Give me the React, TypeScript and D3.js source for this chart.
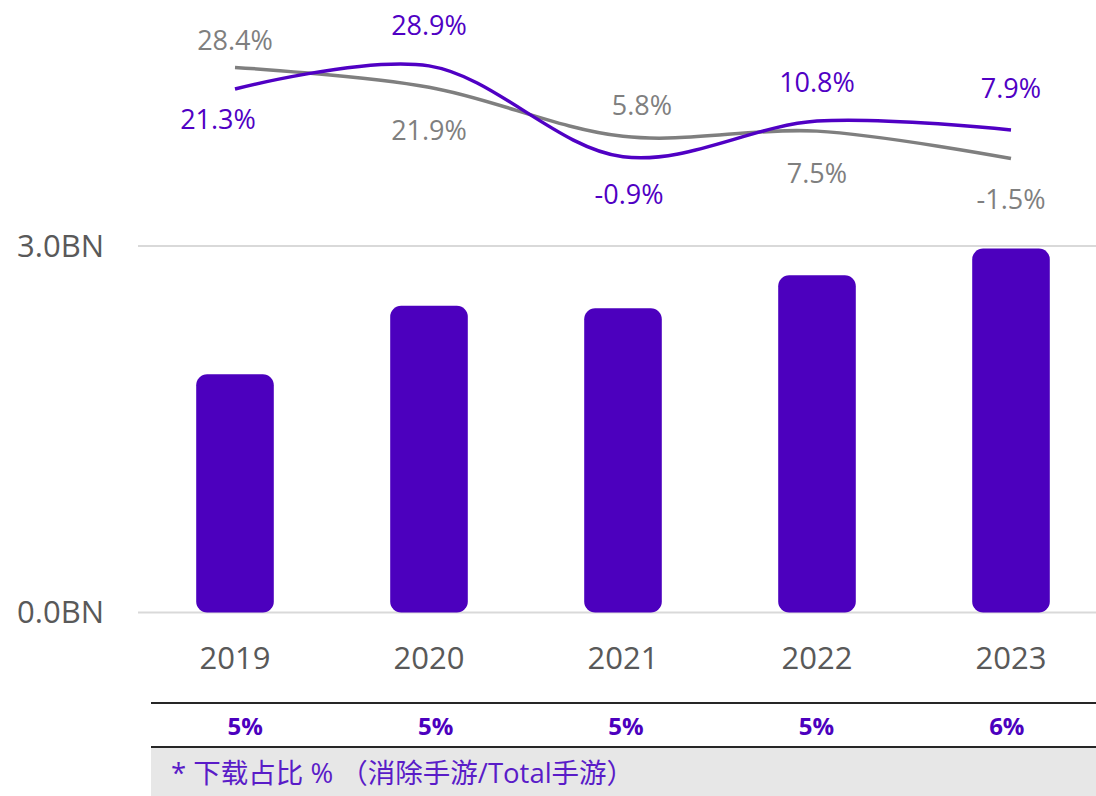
import { useEffect, useRef } from "react"
import * as d3 from "d3"

// downloads (BN) per year
const years = ["2019", "2020", "2021", "2022", "2023"]
const downloads = [1.95, 2.51, 2.49, 2.76, 2.98]
// YoY growth, %
const matchGrowth = [21.3, 28.9, -0.9, 10.8, 7.9]
const totalGrowth = [28.4, 21.9, 5.8, 7.5, -1.5]
// share row under the axis
const shareLabels = ["5%", "5%", "5%", "5%", "6%"]
const yTicks = [0, 3]
const footnote = "* 下载占比 % （消除手游/Total手游）"

// label offset from its point [dx, dy]
const matchLabelPos = [[-17, 31], [0, -40], [6, 38], [0, -39], [0, -41]]
const totalLabelPos = [[0, -27], [0, 43], [19, -31], [0, 42], [0, 41]]

const purple = "#4C00BE"
const grey = "#7F7F7F"
const axisText = "#595959"
const font = "'Open Sans', 'Noto Sans CJK SC', sans-serif"

export default function App() {
    const ref = useRef<SVGSVGElement>(null)
    const width = 1096, height = 796

    const drawChart = () => {
        const svg = d3.select(ref.current)
        svg.selectAll("*").remove()

        const xScale = d3.scaleBand()
            .domain(years)
            .range([138, 1108])
            .paddingInner(0.6)
            .paddingOuter(0.3)
            .align(0.5)

        const yScale = d3.scaleLinear()
            .domain([0, 3])
            .range([612.5, 246])

        const gScale = d3.scaleLinear()
            .domain([0, 30])
            .range([154, 62.5])

        const cx = (d: string) => (xScale(d) as number) + xScale.bandwidth() / 2

        // gridlines + y labels
        const grid = svg.append("g")
        grid.selectAll("line")
            .data(yTicks)
            .join("line")
            .attr("x1", 138)
            .attr("x2", width)
            .attr("y1", (d) => yScale(d))
            .attr("y2", (d) => yScale(d))
            .attr("stroke", "#D9D9D9")
            .attr("stroke-width", 2)

        grid.selectAll("text")
            .data(yTicks)
            .join("text")
            .attr("x", 104)
            .attr("y", (d) => yScale(d))
            .attr("dy", "0.35em")
            .attr("text-anchor", "end")
            .attr("fill", axisText)
            .style("font-family", font)
            .style("font-size", "31px")
            .text((d) => d.toFixed(1) + "BN")

        // bars
        svg.append("g")
            .selectAll("rect")
            .data(downloads)
            .join("rect")
            .attr("x", (d, i) => xScale(years[i]) as number)
            .attr("y", (d) => yScale(d))
            .attr("width", xScale.bandwidth())
            .attr("height", (d) => yScale(0) - yScale(d))
            .attr("rx", 11)
            .attr("fill", purple)

        // year labels
        svg.append("g")
            .selectAll("text")
            .data(years)
            .join("text")
            .attr("x", (d) => cx(d))
            .attr("y", 658)
            .attr("dy", "0.35em")
            .attr("text-anchor", "middle")
            .attr("fill", axisText)
            .style("font-family", font)
            .style("font-size", "31px")
            .text((d) => d)

        // growth lines
        const linePath = d3.line<number>()
            .x((d, i) => cx(years[i]))
            .y((d) => gScale(d))
            .curve(d3.curveCatmullRom.alpha(0.5))

        const series = [
            { values: totalGrowth, color: grey, pos: totalLabelPos },
            { values: matchGrowth, color: "#5000C4", pos: matchLabelPos },
        ]

        series.forEach((s) => {
            svg.append("path")
                .attr("d", linePath(s.values))
                .attr("fill", "none")
                .attr("stroke", s.color)
                .attr("stroke-width", 3.5)

            svg.append("g")
                .selectAll("text")
                .data(s.values)
                .join("text")
                .attr("x", (d, i) => cx(years[i]) + s.pos[i][0])
                .attr("y", (d, i) => gScale(d) + s.pos[i][1])
                .attr("dy", "0.35em")
                .attr("text-anchor", "middle")
                .attr("fill", s.color)
                .style("font-family", font)
                .style("font-size", "27px")
                .text((d) => d.toFixed(1) + "%")
        })

        // share table
        const tScale = d3.scaleBand()
            .domain(years)
            .range([150, 1102])

        svg.append("line")
            .attr("x1", 151).attr("x2", width)
            .attr("y1", 703).attr("y2", 703)
            .attr("stroke", "#262626")
            .attr("stroke-width", 2)

        svg.append("g")
            .selectAll("text")
            .data(shareLabels)
            .join("text")
            .attr("x", (d, i) => (tScale(years[i]) as number) + tScale.bandwidth() / 2)
            .attr("y", 727)
            .attr("dy", "0.35em")
            .attr("text-anchor", "middle")
            .attr("fill", purple)
            .style("font-family", font)
            .style("font-size", "24px")
            .style("font-weight", "bold")
            .text((d) => d)

        svg.append("rect")
            .attr("x", 151).attr("y", 747)
            .attr("width", width - 151).attr("height", height - 747)
            .attr("fill", "#E7E7E7")

        svg.append("line")
            .attr("x1", 151).attr("x2", width)
            .attr("y1", 747).attr("y2", 747)
            .attr("stroke", "#262626")
            .attr("stroke-width", 2)

        svg.append("text")
            .attr("x", 171)
            .attr("y", 773)
            .attr("dy", "0.35em")
            .attr("fill", "#5A1CC8")
            .style("font-family", font)
            .style("font-size", "27.5px")
            .text(footnote)
    }

    useEffect(() => {
        drawChart()
    }, [])

    return (
        <svg
            ref={ref}
            width={width}
            height={height}
            style={{ position: "absolute", left: 0, top: 0, background: "#fff" }}
        />
    )
}
